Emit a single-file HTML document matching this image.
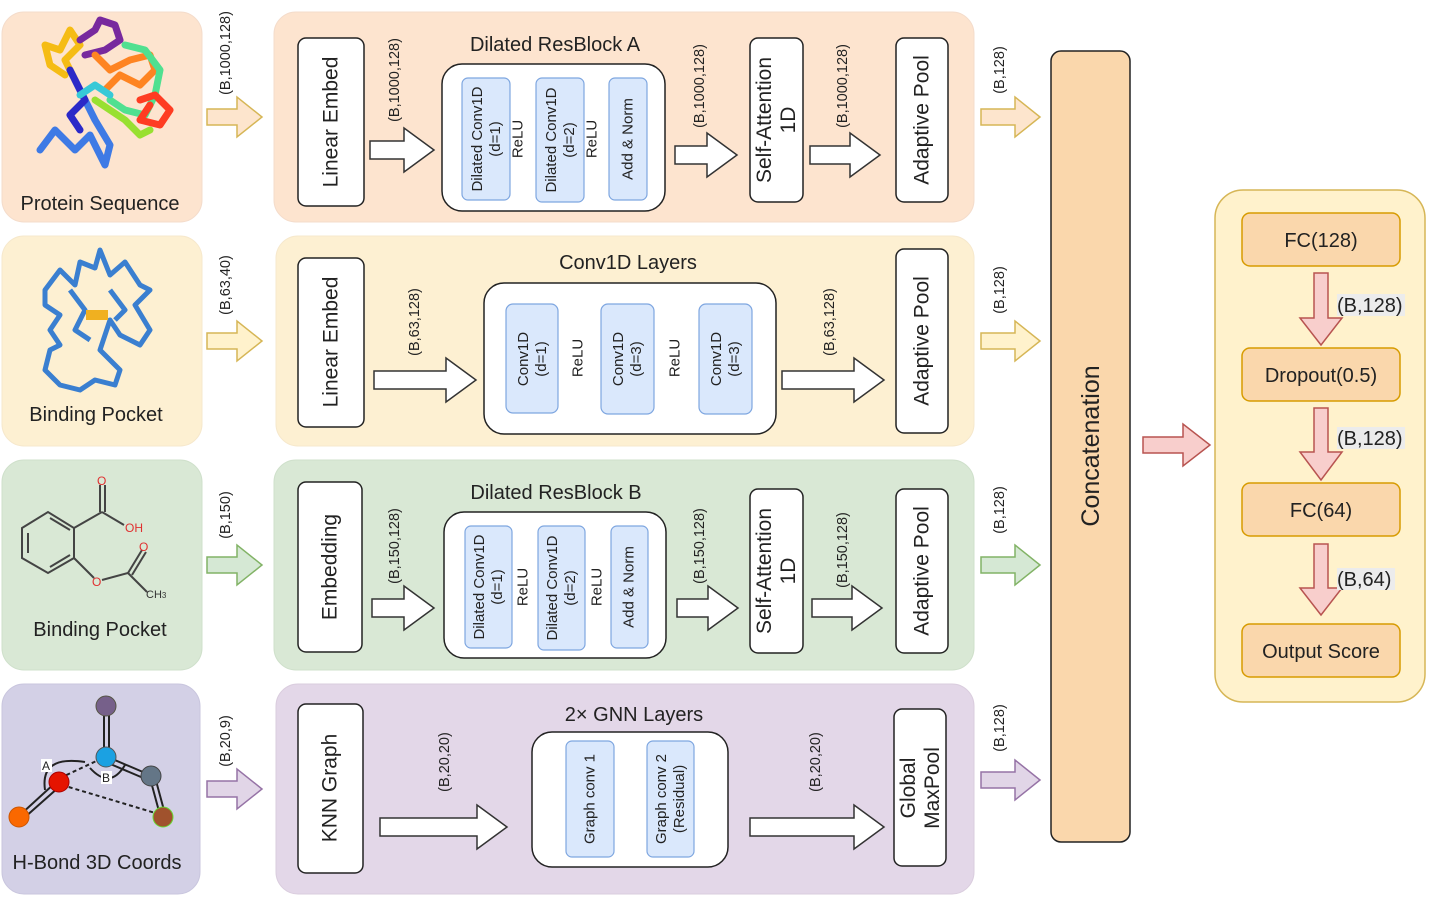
<!DOCTYPE html>
<html><head><meta charset="utf-8"><style>
html,body{margin:0;padding:0;background:#fff;}
svg{display:block;font-family:"Liberation Sans",Arial,sans-serif;}
.t{fill:#222;}
</style></head><body>
<svg width="1438" height="910" viewBox="0 0 1438 910" xmlns="http://www.w3.org/2000/svg">
<rect x="2" y="12" width="200" height="210" rx="22" fill="#fde4cf" stroke="#f4dccb"/>
<rect x="2" y="236" width="200" height="210" rx="22" fill="#fdf0d2" stroke="#f6e8cc"/>
<rect x="2" y="460" width="200" height="210" rx="22" fill="#d9e8d5" stroke="#cfe0cb"/>
<rect x="2" y="684" width="198" height="210" rx="22" fill="#d3d0e6" stroke="#c9c6de"/>
<rect x="274" y="12" width="700" height="210" rx="22" fill="#fde4cf" stroke="#f4dccb"/>
<rect x="276" y="236" width="698" height="210" rx="22" fill="#fdf0d2" stroke="#f6e8cc"/>
<rect x="274" y="460" width="700" height="210" rx="22" fill="#d9e8d5" stroke="#cfe0cb"/>
<rect x="276" y="684" width="698" height="210" rx="22" fill="#e3d7e8" stroke="#dacdde"/>

<g fill="none" stroke-width="7" stroke-linecap="round" stroke-linejoin="round" opacity="0.9">
<polyline points="40,150 55,130 75,150 90,135 105,165 110,145 95,120 85,100 75,80" stroke="#2a6fe8"/>
<polyline points="75,80 65,60 80,45 70,30 60,50 45,45 50,65 65,75" stroke="#f5b800"/>
<polyline points="70,70 85,100 70,115 80,130" stroke="#1515c8"/>
<polyline points="80,40 95,30 100,20 115,25 120,40 105,50 85,55" stroke="#6a1599"/>
<polyline points="95,55 110,70 130,60 150,55 155,70 140,85 120,75 105,90" stroke="#ff7a10"/>
<polyline points="125,45 145,50 160,70 155,95 145,115 125,110 110,100" stroke="#3ee08a"/>
<polyline points="140,100 155,95 170,110 160,125 140,120 150,105" stroke="#ff2a10"/>
<polyline points="95,100 110,110 125,120 140,135 150,130" stroke="#8ee020"/>
<polyline points="80,95 95,85 110,95" stroke="#22c7d8"/>
</g>
<path d="M45,290 L60,270 L75,285 L80,262 L95,268 L100,250 L110,275 L125,262 L140,285 L150,290 L135,305 L150,330 L140,345 L120,335 L110,320 L100,350 L120,370 L115,385 L95,380 L80,390 L60,385 L45,370 L50,350 L60,345 L50,330 L60,315 L45,305 Z M70,290 L85,310 L75,330 L90,340 M110,290 L125,310 L115,320" fill="none" stroke="#3a7fd0" stroke-width="5" stroke-linejoin="round"/>
<rect x="86" y="310" width="22" height="10" fill="#f0b020"/>
<g stroke="#444" stroke-width="2" fill="none">
<polygon points="22,528 48,512 74,528 74,558 48,573 22,558"/>
<line x1="28" y1="533" x2="28" y2="553"/><line x1="50" y1="518" x2="70" y2="530"/><line x1="50" y1="567" x2="70" y2="555"/>
<line x1="74" y1="528" x2="102" y2="512"/><line x1="100" y1="512" x2="100" y2="485"/><line x1="105" y1="512" x2="105" y2="485"/>
<line x1="102" y1="512" x2="124" y2="525"/>
<line x1="74" y1="558" x2="94" y2="578"/><line x1="102" y1="580" x2="128" y2="573"/>
<line x1="128" y1="573" x2="142" y2="550"/><line x1="132" y1="575" x2="146" y2="552"/><line x1="128" y1="573" x2="147" y2="592"/>
</g>
<g font-size="12" fill="#e03030"><text x="97" y="485">O</text><text x="125" y="532">OH</text><text x="139" y="551">O</text><text x="92" y="586">O</text></g>
<text x="146" y="598" font-size="11" fill="#333">CH<tspan font-size="8">3</tspan></text>
<g stroke="#222" stroke-width="2" fill="none">
<line x1="104" y1="712" x2="104" y2="756"/><line x1="109" y1="712" x2="109" y2="756"/>
<line x1="110" y1="758" x2="150" y2="775"/><line x1="108" y1="763" x2="148" y2="780"/>
<line x1="150" y1="778" x2="160" y2="815"/><line x1="155" y1="777" x2="165" y2="814"/>
<line x1="20" y1="815" x2="55" y2="783"/><line x1="24" y1="818" x2="59" y2="787"/>
<path d="M60,778 L105,757 M62,785 L162,815" stroke-dasharray="4,3"/>
<path d="M45,790 Q40,755 85,762" /><path d="M90,768 Q110,790 125,765"/>
</g>
<circle cx="106" cy="706" r="10" fill="#76608a" stroke="#554"/>
<circle cx="106" cy="757" r="10" fill="#1ba1e2" stroke="#555"/>
<circle cx="151" cy="776" r="10" fill="#647687" stroke="#444"/>
<circle cx="163" cy="817" r="10" fill="#a0522d" stroke="#6d3"/>
<circle cx="59" cy="782" r="10" fill="#e51400" stroke="#a00"/>
<circle cx="19" cy="817" r="10" fill="#fa6800" stroke="#c50"/>
<rect x="41" y="759" width="11" height="13" fill="#fff"/><text x="42" y="770" font-size="12" class="t">A</text>
<rect x="101" y="771" width="11" height="13" fill="#fff"/><text x="102" y="782" font-size="12" class="t">B</text>

<g font-size="20" class="t" text-anchor="middle">
<text x="100" y="210">Protein Sequence</text>
<text x="96" y="421">Binding Pocket</text>
<text x="100" y="636">Binding Pocket</text>
<text x="97" y="869">H-Bond 3D Coords</text>
</g>

<g stroke-width="1.5">
<polygon points="207,109 237,109 237,97 262,117 237,137 237,125 207,125" fill="#fde5cd" stroke="#d6b656"/>
<polygon points="207,333 237,333 237,321 262,341 237,361 237,349 207,349" fill="#fff2cc" stroke="#d6b656"/>
<polygon points="207,557 237,557 237,545 262,565 237,585 237,573 207,573" fill="#d5e8d4" stroke="#82b366"/>
<polygon points="207,781 237,781 237,769 262,789 237,809 237,797 207,797" fill="#e1d5e7" stroke="#9673a6"/>
<polygon points="981,109 1015,109 1015,97 1040,117 1015,137 1015,125 981,125" fill="#fde5cd" stroke="#d6b656"/>
<polygon points="981,333 1015,333 1015,321 1040,341 1015,361 1015,349 981,349" fill="#fff2cc" stroke="#d6b656"/>
<polygon points="981,557 1015,557 1015,545 1040,565 1015,585 1015,573 981,573" fill="#d5e8d4" stroke="#82b366"/>
<polygon points="981,772 1015,772 1015,760 1040,780 1015,800 1015,788 981,788" fill="#e1d5e7" stroke="#9673a6"/>
<polygon points="1143,437 1183,437 1183,424 1210,445 1183,466 1183,453 1143,453" fill="#f8cecc" stroke="#b85450"/>
</g>
<g font-size="14.5" class="t" text-anchor="middle">
<text transform="translate(230,53) rotate(-90)">(B,1000,128)</text>
<text transform="translate(230,285) rotate(-90)">(B,63,40)</text>
<text transform="translate(230,515) rotate(-90)">(B,150)</text>
<text transform="translate(230,741) rotate(-90)">(B,20,9)</text>
<text transform="translate(1004,70) rotate(-90)">(B,128)</text>
<text transform="translate(1004,290) rotate(-90)">(B,128)</text>
<text transform="translate(1004,510) rotate(-90)">(B,128)</text>
<text transform="translate(1004,728) rotate(-90)">(B,128)</text>
</g>

<g fill="#fff" stroke="#333" stroke-width="1.5">
<polygon points="370,141 404,141 404,128 434,150 404,172 404,159 370,159"/>
<polygon points="675,146 707,146 707,133 737,155 707,177 707,164 675,164"/>
<polygon points="810,146 850,146 850,133 880,155 850,177 850,164 810,164"/>
<polygon points="374,371 446,371 446,358 476,380 446,402 446,389 374,389"/>
<polygon points="782,371 854,371 854,358 884,380 854,402 854,389 782,389"/>
<polygon points="372,599 404,599 404,586 434,608 404,630 404,617 372,617"/>
<polygon points="677,599 708,599 708,586 738,608 708,630 708,617 677,617"/>
<polygon points="812,599 852,599 852,586 882,608 852,630 852,617 812,617"/>
<polygon points="380,818 477,818 477,805 507,827 477,849 477,836 380,836"/>
<polygon points="750,818 854,818 854,805 884,827 854,849 854,836 750,836"/>
</g>

<g fill="#fff" stroke="#222" stroke-width="1.5">
<rect x="298" y="38" width="66" height="168" rx="8"/>
<rect x="442" y="64" width="223" height="147" rx="20"/>
<rect x="750" y="38" width="53" height="164" rx="8"/>
<rect x="896" y="38" width="52" height="164" rx="8"/>
<rect x="298" y="258" width="66" height="169" rx="8"/>
<rect x="484" y="283" width="292" height="151" rx="20"/>
<rect x="896" y="249" width="52" height="184" rx="8"/>
<rect x="298" y="482" width="64" height="170" rx="8"/>
<rect x="444" y="512" width="222" height="146" rx="20"/>
<rect x="750" y="489" width="53" height="164" rx="8"/>
<rect x="896" y="489" width="52" height="164" rx="8"/>
<rect x="298" y="704" width="65" height="169" rx="8"/>
<rect x="532" y="732" width="196" height="135" rx="20"/>
<rect x="894" y="709" width="52" height="157" rx="8"/>
</g>
<g fill="#dae8fc" stroke="#7ea6e0" stroke-width="1.2">
<rect x="462" y="78" width="48" height="122" rx="6"/>
<rect x="536" y="78" width="48" height="124" rx="6"/>
<rect x="609" y="78" width="38" height="122" rx="6"/>
<rect x="506" y="304" width="52" height="109" rx="7"/>
<rect x="601" y="304" width="53" height="110" rx="7"/>
<rect x="699" y="304" width="53" height="110" rx="7"/>
<rect x="465" y="526" width="47" height="122" rx="6"/>
<rect x="538" y="526" width="47" height="124" rx="6"/>
<rect x="611" y="526" width="37" height="122" rx="6"/>
<rect x="566" y="741" width="48" height="116" rx="6"/>
<rect x="647" y="741" width="47" height="116" rx="6"/>
</g>

<g font-size="20" class="t" text-anchor="middle">
<text x="555" y="51">Dilated ResBlock A</text>
<text x="628" y="269">Conv1D Layers</text>
<text x="556" y="499">Dilated ResBlock B</text>
<text x="634" y="721">2× GNN Layers</text>
</g>
<g font-size="21" class="t" text-anchor="middle" dominant-baseline="central">
<text transform="translate(331,122) rotate(-90)">Linear Embed</text>
<text transform="translate(331,342) rotate(-90)">Linear Embed</text>
<text transform="translate(330,567) rotate(-90)">Embedding</text>
<text transform="translate(330,788) rotate(-90)">KNN Graph</text>
<text transform="translate(922,120) rotate(-90)">Adaptive Pool</text>
<text transform="translate(922,341) rotate(-90)">Adaptive Pool</text>
<text transform="translate(922,571) rotate(-90)">Adaptive Pool</text>
<text transform="translate(776,120) rotate(-90)"><tspan x="0" y="-12">Self-Attention</tspan><tspan x="0" y="12">1D</tspan></text>
<text transform="translate(776,571) rotate(-90)"><tspan x="0" y="-12">Self-Attention</tspan><tspan x="0" y="12">1D</tspan></text>
<text transform="translate(920,788) rotate(-90)"><tspan x="0" y="-12">Global</tspan><tspan x="0" y="12">MaxPool</tspan></text>
</g>
<g font-size="15" class="t" text-anchor="middle" dominant-baseline="central">
<text transform="translate(486,139) rotate(-90)"><tspan x="0" y="-9">Dilated Conv1D</tspan><tspan x="0" y="9">(d=1)</tspan></text>
<text transform="translate(518,139) rotate(-90)">ReLU</text>
<text transform="translate(560,140) rotate(-90)"><tspan x="0" y="-9">Dilated Conv1D</tspan><tspan x="0" y="9">(d=2)</tspan></text>
<text transform="translate(592,139) rotate(-90)">ReLU</text>
<text transform="translate(628,139) rotate(-90)">Add &amp; Norm</text>
<text transform="translate(532,359) rotate(-90)"><tspan x="0" y="-9">Conv1D</tspan><tspan x="0" y="9">(d=1)</tspan></text>
<text transform="translate(578,358) rotate(-90)">ReLU</text>
<text transform="translate(627,359) rotate(-90)"><tspan x="0" y="-9">Conv1D</tspan><tspan x="0" y="9">(d=3)</tspan></text>
<text transform="translate(675,358) rotate(-90)">ReLU</text>
<text transform="translate(725,359) rotate(-90)"><tspan x="0" y="-9">Conv1D</tspan><tspan x="0" y="9">(d=3)</tspan></text>
<text transform="translate(488,587) rotate(-90)"><tspan x="0" y="-9">Dilated Conv1D</tspan><tspan x="0" y="9">(d=1)</tspan></text>
<text transform="translate(523,587) rotate(-90)">ReLU</text>
<text transform="translate(561,588) rotate(-90)"><tspan x="0" y="-9">Dilated Conv1D</tspan><tspan x="0" y="9">(d=2)</tspan></text>
<text transform="translate(597,587) rotate(-90)">ReLU</text>
<text transform="translate(629,587) rotate(-90)">Add &amp; Norm</text>
<text transform="translate(590,799) rotate(-90)">Graph conv 1</text>
<text transform="translate(670,799) rotate(-90)"><tspan x="0" y="-9">Graph conv 2</tspan><tspan x="0" y="9">(Residual)</tspan></text>
</g>
<g font-size="14.5" class="t" text-anchor="middle" dominant-baseline="central">
<text transform="translate(395,80) rotate(-90)">(B,1000,128)</text>
<text transform="translate(700,86) rotate(-90)">(B,1000,128)</text>
<text transform="translate(843,86) rotate(-90)">(B,1000,128)</text>
<text transform="translate(415,322) rotate(-90)">(B,63,128)</text>
<text transform="translate(830,322) rotate(-90)">(B,63,128)</text>
<text transform="translate(395,546) rotate(-90)">(B,150,128)</text>
<text transform="translate(700,546) rotate(-90)">(B,150,128)</text>
<text transform="translate(843,550) rotate(-90)">(B,150,128)</text>
<text transform="translate(445,762) rotate(-90)">(B,20,20)</text>
<text transform="translate(816,762) rotate(-90)">(B,20,20)</text>
</g>

<rect x="1051" y="51" width="79" height="791" rx="10" fill="#fad7ac" stroke="#222" stroke-width="1.5"/>
<text transform="translate(1091,446) rotate(-90)" text-anchor="middle" dominant-baseline="central" font-size="25" class="t">Concatenation</text>

<rect x="1215" y="190" width="210" height="512" rx="28" fill="#fff2cc" stroke="#d6b656" stroke-width="1.5"/>
<g fill="#fad7ac" stroke="#d79b00" stroke-width="1.5">
<rect x="1242" y="213" width="158" height="53" rx="8"/>
<rect x="1242" y="348" width="158" height="53" rx="8"/>
<rect x="1242" y="483" width="158" height="53" rx="8"/>
<rect x="1242" y="624" width="158" height="53" rx="8"/>
</g>
<g fill="#f8cecc" stroke="#b85450" stroke-width="1.5">
<polygon points="1314,273 1328,273 1328,318 1342,318 1321,345 1300,318 1314,318"/>
<polygon points="1314,408 1328,408 1328,452 1342,452 1321,480 1300,452 1314,452"/>
<polygon points="1314,544 1328,544 1328,588 1342,588 1321,615 1300,588 1314,588"/>
</g>
<g fill="#ececec">
<rect x="1337" y="294" width="68" height="22"/>
<rect x="1337" y="427" width="68" height="22"/>
<rect x="1337" y="568" width="58" height="22"/>
</g>
<g font-size="20" class="t" text-anchor="middle">
<text x="1321" y="247">FC(128)</text>
<text x="1321" y="382">Dropout(0.5)</text>
<text x="1321" y="517">FC(64)</text>
<text x="1321" y="658">Output Score</text>
</g>
<g font-size="20" class="t">
<text x="1337" y="312">(B,128)</text>
<text x="1337" y="445">(B,128)</text>
<text x="1337" y="586">(B,64)</text>
</g>
</svg>
</body></html>
